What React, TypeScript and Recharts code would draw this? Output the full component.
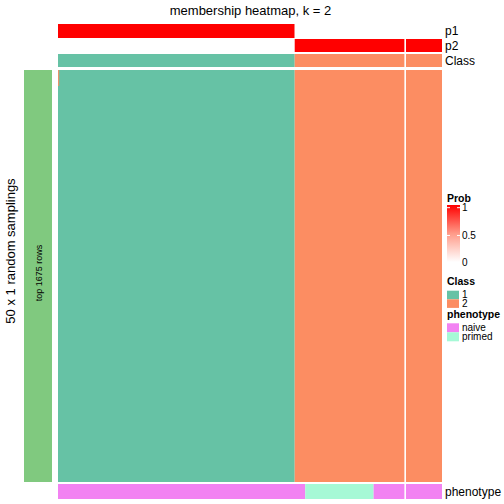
import React from 'react';
import { BarChart, Bar, XAxis, YAxis, ReferenceLine, Cell } from 'recharts';

// ---- data ----
const nCols = 73;
const sliceBreakCol = 66;
const classColors: Record<string, string> = { '1': '#66C2A5', '2': '#FC8D62' };
const phenoLevels = ['naive', 'primed'];
const phenoColors: Record<string, string> = { naive: '#F282F2', primed: '#A6F9D6' };
const classLevels = ['1', '2'];
const probTicks = [1, 0.5, 0];

// run-length encoded columns: [value, number of columns]
const p1Runs: [number, number][] = [[1, 45], [0, 21], [0, 7]];
const p2Runs: [number, number][] = [[0, 45], [1, 21], [1, 7]];
const classRuns: [string, number][] = [['1', 45], ['2', 21], ['2', 7]];
const phenoRuns: [string, number][] = [['naive', 47], ['primed', 13], ['naive', 6], ['naive', 7]];

// 50 random samplings: all rows follow classRuns, except the top rows where
// the first column is partly assigned to class 2
const nSamplings = 50;
const nMismatchRows = 2;
const samplingRuns: [string, number][] = [['1', 45], ['2', 21], ['2', 7]];
const mismatchRuns: [string | null, number][] = [['2', 0.2], [null, 72.8]];

function probColor(p: number) {
  const g = Math.round(255 * (1 - p));
  return `rgb(255,${g},${g})`;
}

const FONT = '"Liberation Sans", Arial, Helvetica, sans-serif';

type Run = [any, number];

function Band({ top, height, rows, colorOf, breakCol, left = 58, width = 384, domainMax = nCols }: {
  top: number; height: number; rows: Run[][]; colorOf: (v: any) => string; breakCol?: number;
  left?: number; width?: number; domainMax?: number;
}) {
  const k = Math.max(...rows.map((r) => r.length));
  const data = rows.map((r, i) => {
    const o: any = { row: i };
    r.forEach(([v, n], j) => {
      o['s' + j] = n;
      o['c' + j] = v;
    });
    return o;
  });
  return (
    <div style={{ position: 'absolute', left, top, width, height }}>
      <BarChart
        layout="vertical"
        width={width}
        height={height}
        data={data}
        margin={{ top: 0, right: 0, bottom: 0, left: 0 }}
        barCategoryGap={0}
        barGap={0}
      >
        <XAxis type="number" domain={[0, domainMax]} hide />
        <YAxis type="category" dataKey="row" hide width={0} />
        {Array.from({ length: k }).map((_, j) => (
          <Bar key={j} dataKey={'s' + j} stackId="a" isAnimationActive={false}>
            {data.map((d, i) => (
              <Cell key={i} fill={colorOf(d['c' + j])} />
            ))}
          </Bar>
        ))}
        {breakCol != null && <ReferenceLine x={breakCol} stroke="#ffffff" strokeWidth={1.6} ifOverflow="visible" />}
      </BarChart>
    </div>
  );
}

const heatTop = 70;
const heatH = 412;

export default function App() {
  return (
    <div style={{ position: 'absolute', left: 0, top: 0, width: 504, height: 504, background: '#fff', fontFamily: FONT }}>
      {/* top annotation rows */}
      <Band top={24} height={14} rows={[p1Runs]} colorOf={probColor} breakCol={sliceBreakCol} />
      <Band top={38.5} height={13.5} rows={[p2Runs]} colorOf={probColor} breakCol={sliceBreakCol} />
      <Band top={53.5} height={13.5} rows={[classRuns]} colorOf={(v) => classColors[v]} breakCol={sliceBreakCol} />
      {/* main membership heatmap */}
      <Band top={heatTop} height={heatH} rows={[samplingRuns]} colorOf={(v) => classColors[v]} breakCol={sliceBreakCol} />
      <Band
        top={heatTop}
        height={(heatH * nMismatchRows) / nSamplings}
        rows={[mismatchRuns]}
        colorOf={(v) => (v == null ? 'transparent' : classColors[v])}
      />
      {/* phenotype row */}
      <Band top={484} height={15} rows={[phenoRuns]} colorOf={(v) => phenoColors[v]} breakCol={sliceBreakCol} />
      {/* row-group bar on the left */}
      <Band top={heatTop} height={heatH} left={24} width={28} rows={[[['g', 1]]]} colorOf={() => '#80C97F'} domainMax={1} />

      <svg width={504} height={504} style={{ position: 'absolute', left: 0, top: 0, pointerEvents: 'none' }} fontFamily={FONT}>
        <defs>
          <linearGradient id="probGrad" x1="0" y1="0" x2="0" y2="1">
            <stop offset="0" stopColor="#FF0000" />
            <stop offset="0.5" stopColor="#FF9A88" />
            <stop offset="1" stopColor="#FFFFFF" />
          </linearGradient>
        </defs>
        <text x={250.5} y={15} fontSize={13} textAnchor="middle" fill="#000">membership heatmap, k = 2</text>
        <text x={445} y={35} fontSize={12} fill="#000">p1</text>
        <text x={445} y={49.5} fontSize={12} fill="#000">p2</text>
        <text x={445} y={64.5} fontSize={12} fill="#000">Class</text>
        <text x={445} y={496} fontSize={12} fill="#000">phenotype</text>
        <text transform="translate(15,251) rotate(-90)" fontSize={13} textAnchor="middle" fill="#000">50 x 1 random samplings</text>
        <text transform="translate(41.5,273) rotate(-90)" fontSize={9} textAnchor="middle" fill="#000">top 1675 rows</text>

        {/* Prob legend */}
        <text x={447} y={201.5} fontSize={10.5} fontWeight="bold" fill="#000">Prob</text>
        <rect x={447} y={205} width={13} height={57} fill="url(#probGrad)" />
        {probTicks.map((t) => {
          const y = 207.7 + (1 - t) * 55.5;
          return (
            <g key={t}>
              <line x1={447} x2={450} y1={y} y2={y} stroke="#fff" strokeWidth={1} />
              <line x1={457} x2={460} y1={y} y2={y} stroke="#fff" strokeWidth={1} />
              <text x={462} y={y + 3.2} fontSize={10} fill="#000">{t}</text>
            </g>
          );
        })}

        {/* Class legend */}
        <text x={447} y={285} fontSize={10.5} fontWeight="bold" fill="#000">Class</text>
        {classLevels.map((c, i) => (
          <g key={c}>
            <rect x={447} y={290.7 + i * 8.6} width={12} height={8.6} fill={classColors[c]} />
            <text x={462} y={298.3 + i * 8.6} fontSize={10} fill="#000">{c}</text>
          </g>
        ))}

        {/* phenotype legend */}
        <text x={447} y={318} fontSize={10.5} fontWeight="bold" fill="#000">phenotype</text>
        {phenoLevels.map((p, i) => (
          <g key={p}>
            <rect x={447} y={323.3 + i * 9} width={12} height={9} fill={phenoColors[p]} />
            <text x={462} y={331 + i * 9} fontSize={10} fill="#000">{p}</text>
          </g>
        ))}
      </svg>
    </div>
  );
}
